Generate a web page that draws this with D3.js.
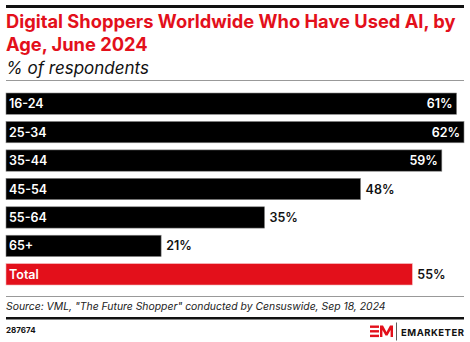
<!DOCTYPE html>
<html><head><meta charset="utf-8">
<script src="https://cdn.jsdelivr.net/npm/d3@7"></script>
<style>body{margin:0;background:#fff}svg{display:block}text{font-family:Inter,"Open Sans",sans-serif}</style>
</head><body><svg id="c" width="470" height="342"></svg>
<script>
const categories = ["16-24","25-34","35-44","45-54","55-64","65+","Total"];
const values = [61,62,59,48,35,21,55];
const titleLines = ["Digital Shoppers Worldwide Who Have Used AI, by","Age, June 2024"];
const subtitle = "% of respondents";
const source = 'Source: VML, "The Future Shopper" conducted by Censuswide, Sep 18, 2024';
const chartId = "287674";

const svg = d3.select("#c");
const red = "#e3101b";
svg.append("rect").attr("x",6).attr("y",5).attr("width",458).attr("height",3).attr("fill","#111");
svg.selectAll(".t").data(titleLines).enter().append("text")
  .attr("x",6).attr("y",(d,i)=>28+i*22.5).attr("fill",red)
  .attr("font-size",18.3).attr("font-weight",700).text(d=>d);
svg.append("text").attr("x",6).attr("y",74).attr("font-size",17).attr("font-style","italic")
  .attr("fill","#111").text(subtitle);
svg.append("rect").attr("x",6).attr("y",80).attr("width",458).attr("height",1).attr("fill","#999");

const x = d3.scaleLinear().domain([0,62]).range([6,464]);
const y = d3.scaleBand().domain(categories).range([93,285]).paddingInner(0.25).paddingOuter(0);
const data = categories.map((c,i)=>({c,v:values[i]}));
const g = svg.append("g");
g.selectAll("rect.bar").data(data).enter().append("rect")
  .attr("x",x(0)).attr("y",d=>y(d.c)).attr("width",d=>x(d.v)-x(0)).attr("height",y.bandwidth())
  .attr("fill",d=>d.c==="Total"?red:"#000")
  .attr("stroke",d=>d.c==="Total"?"#f2b0b3":"#888").attr("stroke-width",0.6);
g.selectAll("text.cat").data(data).enter().append("text")
  .attr("x",9).attr("y",d=>y(d.c)+y.bandwidth()/2+4.5).attr("fill","#fff")
  .attr("font-size",12.5).attr("font-weight",600).text(d=>d.c);
g.selectAll("text.val").data(data).enter().append("text")
  .attr("x",d=>d.v>=55 && d.c!=="Total" ? x(d.v)-4 : x(d.v)+5)
  .attr("text-anchor",d=>d.v>=55 && d.c!=="Total" ? "end":"start")
  .attr("y",d=>y(d.c)+y.bandwidth()/2+4.5)
  .attr("fill",d=>d.v>=55 && d.c!=="Total" ? "#fff":"#111")
  .attr("font-size",12.5).attr("font-weight",600).text(d=>d.v+"%");

svg.append("rect").attr("x",6).attr("y",296).attr("width",458).attr("height",1).attr("fill","#999");
svg.append("text").attr("x",6).attr("y",310).attr("font-size",10.4).attr("font-style","italic")
  .attr("fill","#222").text(source);
svg.append("rect").attr("x",6).attr("y",317).attr("width",458).attr("height",2.5).attr("fill","#111");
svg.append("text").attr("x",6).attr("y",333).attr("font-size",8).attr("font-weight",700)
  .attr("fill","#111").text(chartId);
// logo
const lg = svg.append("g").attr("transform","translate(370,325.5)");
lg.append("rect").attr("x",0).attr("y",0).attr("width",9).attr("height",2.4).attr("fill",red);
lg.append("rect").attr("x",0).attr("y",4.6).attr("width",9).attr("height",2.4).attr("fill",red);
lg.append("rect").attr("x",0).attr("y",9.2).attr("width",9).attr("height",2.4).attr("fill",red);
lg.append("path").attr("d","M10,11.6 L10,0 L13,0 L16.5,6.5 L20,0 L23,0 L23,11.6 L20.6,11.6 L20.6,4.5 L17.5,10 L15.5,10 L12.4,4.5 L12.4,11.6 Z").attr("fill",red);
lg.append("rect").attr("x",26).attr("y",-3).attr("width",0.8).attr("height",18).attr("fill","#333");
svg.append("text").attr("x",401).attr("y",336).attr("font-size",9.5).attr("font-weight",700)
  .attr("textLength",63).attr("lengthAdjust","spacing").attr("fill","#111").text("EMARKETER");
</script></body></html>
